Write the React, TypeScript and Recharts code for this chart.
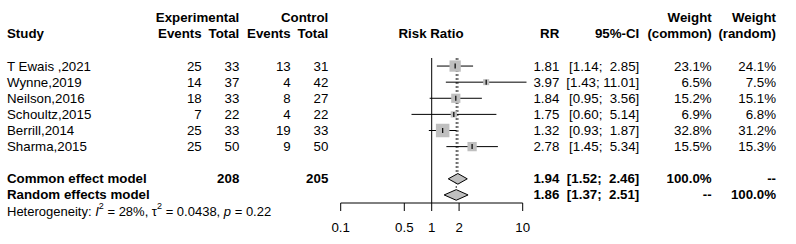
import React from 'react';
import { ComposedChart, Scatter, XAxis, YAxis, ZAxis, ErrorBar, ReferenceLine } from 'recharts';

const STUDIES = ['T Ewais ,2021', 'Wynne,2019', 'Neilson,2016', 'Schoultz,2015', 'Berrill,2014', 'Sharma,2015'];
const EXP_EVENTS = [25, 14, 18, 7, 25, 25];
const EXP_TOTAL = [33, 37, 33, 22, 33, 50];
const CTRL_EVENTS = [13, 4, 8, 4, 19, 9];
const CTRL_TOTAL = [31, 42, 27, 22, 33, 50];
const RR = [1.81, 3.97, 1.84, 1.75, 1.32, 2.78];
const CI_LOW = [1.14, 1.43, 0.95, 0.6, 0.93, 1.45];
const CI_HIGH = [2.85, 11.01, 3.56, 5.14, 1.87, 5.34];
const W_COMMON = [23.1, 6.5, 15.2, 6.9, 32.8, 15.5];
const W_RANDOM = [24.1, 7.5, 15.1, 6.8, 31.2, 15.3];

const MODELS = ['Common effect model', 'Random effects model'];
const MODEL_RR = [1.94, 1.86];
const MODEL_LOW = [1.52, 1.37];
const MODEL_HIGH = [2.46, 2.51];
const MODEL_W_COMMON = ['100.0%', '--'];
const MODEL_W_RANDOM = ['--', '100.0%'];

const X_TICKS = [0.1, 0.5, 1, 2, 10];

// layout
const W = 796;
const H = 244;
const PLOT_TOP = 58;
const PLOT_BOTTOM = 203;
const PLOT_LEFT = 340.7;
const PLOT_RIGHT = 526.5;
const ROW_MIN = -0.5;
const ROW_MAX = 8.5;
const MODEL_ROW = 7;
const DIAMOND_H = 0.33;
const FONT = '"Liberation Sans", Arial, Helvetica, sans-serif';
const FS = 13.3;
const SQUARE_FILL = '#bfbfbf';

const rowY = (r: number) => PLOT_TOP + ((r - ROW_MIN) / (ROW_MAX - ROW_MIN)) * (PLOT_BOTTOM - PLOT_TOP);

const COL = { study: 7, expEv: 201.7, expTot: 239.3, ctlEv: 290.7, ctlTot: 328.3, rr: 559.3, ci: 639.3, wc: 711.7, wr: 776, plot: 431 };

const ciText = (lo: number, hi: number) => `[${lo.toFixed(2)}; ${hi.toFixed(2).padStart(5, ' ')}]`;
const sum = (a: number[]) => a.reduce((s, v) => s + v, 0);

const studyData = STUDIES.map((name, i) => ({
  name,
  rr: RR[i],
  row: i,
  w: W_COMMON[i],
  err: [RR[i] - CI_LOW[i], CI_HIGH[i] - RR[i]],
}));

const diamond = (i: number) => {
  const r = MODEL_ROW + i;
  return [
    { rr: MODEL_LOW[i], row: r },
    { rr: MODEL_RR[i], row: r - DIAMOND_H },
    { rr: MODEL_HIGH[i], row: r },
    { rr: MODEL_RR[i], row: r + DIAMOND_H },
    { rr: MODEL_LOW[i], row: r },
  ];
};

const StudySquare = (props: any) => {
  const { cx, cy, size } = props;
  const s = Math.sqrt(size);
  return (
    <g>
      <rect x={cx - s / 2} y={cy - s / 2} width={s} height={s} fill={SQUARE_FILL} />
      <line x1={cx} x2={cx} y1={cy - 2.5} y2={cy + 2.5} stroke="#000" strokeWidth={1.2} />
    </g>
  );
};

const T = (p: { x: number; r: number; anchor?: string; bold?: boolean; children: React.ReactNode }) => (
  <text
    x={p.x}
    y={rowY(p.r)}
    textAnchor={(p.anchor || 'end') as any}
    dominantBaseline="central"
    fontWeight={p.bold ? 'bold' : 'normal'}
    fontSize={FS}
    style={{ whiteSpace: 'pre' }}
  >
    {p.children}
  </text>
);

const Table = () => (
  <svg width={W} height={H} style={{ position: 'absolute', left: 0, top: 0, pointerEvents: 'none' }} fontFamily={FONT} fill="#000">
    {/* header */}
    <T x={COL.expTot} r={-3} bold>Experimental</T>
    <T x={COL.ctlTot} r={-3} bold>Control</T>
    <T x={COL.wc} r={-3} bold>Weight</T>
    <T x={COL.wr} r={-3} bold>Weight</T>
    <T x={COL.study} r={-2} anchor="start" bold>Study</T>
    <T x={COL.expEv} r={-2} bold>Events</T>
    <T x={COL.expTot} r={-2} bold>Total</T>
    <T x={COL.ctlEv} r={-2} bold>Events</T>
    <T x={COL.ctlTot} r={-2} bold>Total</T>
    <T x={COL.plot} r={-2} anchor="middle" bold>Risk Ratio</T>
    <T x={COL.rr} r={-2} bold>RR</T>
    <T x={COL.ci} r={-2} bold>95%-CI</T>
    <T x={COL.wc} r={-2} bold>(common)</T>
    <T x={COL.wr} r={-2} bold>(random)</T>

    {STUDIES.map((name, i) => (
      <g key={name}>
        <T x={COL.study} r={i} anchor="start">{name}</T>
        <T x={COL.expEv} r={i}>{EXP_EVENTS[i]}</T>
        <T x={COL.expTot} r={i}>{EXP_TOTAL[i]}</T>
        <T x={COL.ctlEv} r={i}>{CTRL_EVENTS[i]}</T>
        <T x={COL.ctlTot} r={i}>{CTRL_TOTAL[i]}</T>
        <T x={COL.rr} r={i}>{RR[i].toFixed(2)}</T>
        <T x={COL.ci} r={i}>{ciText(CI_LOW[i], CI_HIGH[i])}</T>
        <T x={COL.wc} r={i}>{W_COMMON[i].toFixed(1) + '%'}</T>
        <T x={COL.wr} r={i}>{W_RANDOM[i].toFixed(1) + '%'}</T>
      </g>
    ))}

    {MODELS.map((name, i) => (
      <g key={name}>
        <T x={COL.study} r={MODEL_ROW + i} anchor="start" bold>{name}</T>
        {i === 0 && <T x={COL.expTot} r={MODEL_ROW} bold>{sum(EXP_TOTAL)}</T>}
        {i === 0 && <T x={COL.ctlTot} r={MODEL_ROW} bold>{sum(CTRL_TOTAL)}</T>}
        <T x={COL.rr} r={MODEL_ROW + i} bold>{MODEL_RR[i].toFixed(2)}</T>
        <T x={COL.ci} r={MODEL_ROW + i} bold>{ciText(MODEL_LOW[i], MODEL_HIGH[i])}</T>
        <T x={COL.wc} r={MODEL_ROW + i} bold>{MODEL_W_COMMON[i]}</T>
        <T x={COL.wr} r={MODEL_ROW + i} bold>{MODEL_W_RANDOM[i]}</T>
      </g>
    ))}

    <text x={COL.study} y={rowY(MODEL_ROW + 2)} dominantBaseline="central" fontSize={13}>
      Heterogeneity: <tspan fontStyle="italic">I</tspan>
      <tspan dy={-5} fontSize={9}>2</tspan>
      <tspan dy={5}> = 28%, τ</tspan>
      <tspan dy={-5} fontSize={9}>2</tspan>
      <tspan dy={5}> = 0.0438, </tspan>
      <tspan fontStyle="italic">p</tspan> = 0.22
    </text>
  </svg>
);

export default function App() {
  return (
    <div style={{ position: 'absolute', left: 0, top: 0, width: W, height: H, background: '#fff' }}>
      <ComposedChart
        width={W}
        height={H}
        margin={{ top: PLOT_TOP, bottom: 0, left: PLOT_LEFT, right: W - PLOT_RIGHT }}
      >
        <XAxis
          dataKey="rr"
          type="number"
          scale="log"
          domain={[0.1, Math.max(...CI_HIGH)]}
          ticks={X_TICKS}
          interval={0}
          axisLine={false}
          tickLine={{ stroke: '#000' }}
          tickSize={8}
          tickMargin={12}
          height={H - PLOT_BOTTOM}
          tick={{ fill: '#000', fontSize: FS, fontFamily: FONT }}
          tickFormatter={(v: number) => String(v)}
        />
        <YAxis dataKey="row" type="number" domain={[ROW_MIN, ROW_MAX]} reversed hide width={0} />
        <ZAxis dataKey="w" type="number" domain={[0, Math.max(...W_COMMON)]} range={[0, 182]} />

        <ReferenceLine x={1} stroke="#000" strokeWidth={1} />
        <ReferenceLine
          segment={[{ x: 0.1, y: ROW_MAX }, { x: 10, y: ROW_MAX }]}
          stroke="#000"
          ifOverflow="visible"
        />
        {MODEL_RR.map((v, i) => (
          <ReferenceLine
            key={i}
            segment={[{ x: v, y: ROW_MIN }, { x: v, y: MODEL_ROW + i - DIAMOND_H }]}
            stroke="#333"
            strokeDasharray="2 2"
            ifOverflow="visible"
          />
        ))}

        <Scatter data={studyData} shape={StudySquare} isAnimationActive={false}>
          <ErrorBar dataKey="err" direction="x" width={0} stroke="#000" strokeWidth={1} />
        </Scatter>

        {MODELS.map((m, i) => (
          <Scatter
            key={m}
            data={diamond(i)}
            line={{ stroke: '#000', fill: SQUARE_FILL, strokeWidth: 1 }}
            lineType="joint"
            shape={() => <g />}
            isAnimationActive={false}
          />
        ))}
      </ComposedChart>
      <Table />
    </div>
  );
}
